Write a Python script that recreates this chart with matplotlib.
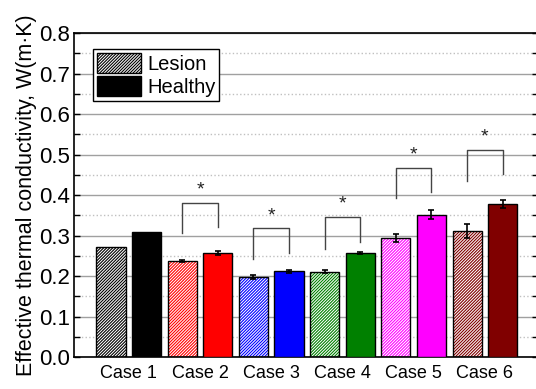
import numpy as np
import matplotlib
matplotlib.use('Agg')
import matplotlib.pyplot as plt
from matplotlib.patches import Patch

plt.rcParams['font.family'] = ['Liberation Sans', 'DejaVu Sans']
plt.rcParams['hatch.linewidth'] = 0.8

## Data

cases = ['Case 1', 'Case 2', 'Case 3', 'Case 4', 'Case 5', 'Case 6']
lesion = [0.272, 0.238, 0.198, 0.211, 0.294, 0.312]
lesion_err = [np.nan, 0.002, 0.005, 0.003, 0.009, 0.017]
healthy = [0.309, 0.256, 0.212, 0.257, 0.351, 0.379]
healthy_err = [np.nan, 0.005, 0.004, 0.002, 0.011, 0.010]
colors = ['black', '#ff0000', '#0000ff', '#008000', '#ff00ff', '#800000']

## Significance brackets (cases 2-6): top level, left leg end, right leg end, star height
sig_cases = [1, 2, 3, 4, 5]
sig_top = [0.381, 0.318, 0.345, 0.467, 0.511]
sig_left = [0.306, 0.242, 0.267, 0.392, 0.435]
sig_right = [0.322, 0.258, 0.285, 0.407, 0.453]
sig_star = [0.412, 0.349, 0.377, 0.499, 0.543]

x = np.arange(len(cases))
off = 0.25
width = 0.41
hatch = '/' * 11

fig = plt.figure(figsize=(5.36, 3.89), dpi=100)
ax = fig.add_axes([0.138, 0.082, 0.865, 0.833])

## Lesion bars: white face with coloured hatch, then a black outline on top
ax.bar(x - off, lesion, width, color='white', edgecolor=colors, hatch=hatch,
       linewidth=0, zorder=2)
ax.bar(x - off, lesion, width, fill=False, edgecolor='black', linewidth=1.0,
       yerr=lesion_err, capsize=2.5, error_kw=dict(elinewidth=1.2, capthick=1.2, ecolor='black'),
       zorder=3)

## Healthy bars
ax.bar(x + off, healthy, width, color=colors, edgecolor='black', linewidth=1.0,
       yerr=healthy_err, capsize=2.5, error_kw=dict(elinewidth=1.2, capthick=1.2, ecolor='black'),
       zorder=3)

## Brackets with stars
for i, c in enumerate(sig_cases):
    xl = c - off
    xr = c + off
    ax.plot([xl, xl, xr, xr], [sig_left[i], sig_top[i], sig_top[i], sig_right[i]],
            color='#444444', linewidth=1.0, zorder=4)
    ax.text(c, sig_star[i], '*', ha='center', va='center', fontsize=14, color='#222222')

ax.set_xlim(-0.77, 5.74)
ax.set_ylim(0, 0.8)
ax.set_yticks(np.arange(0, 0.81, 0.1))
ax.set_yticks(np.arange(0.05, 0.8, 0.1), minor=True)
ax.set_yticklabels(['%.1f' % v for v in np.arange(0, 0.81, 0.1)], fontsize=16)
ax.set_xticks(x)
ax.set_xticklabels(cases, fontsize=13)
ax.tick_params(axis='x', length=0, pad=6)
ax.tick_params(axis='y', which='both', direction='in', right=True, length=4, width=1, pad=3)

ax.grid(axis='y', which='major', color='#a0a0a0', linewidth=1.0, zorder=0)
ax.grid(axis='y', which='minor', color='#c0c0c0', linestyle=':', linewidth=1.0, zorder=0)
ax.set_axisbelow(True)

for s in ax.spines.values():
    s.set_linewidth(1.2)

ax.set_ylabel('Effective thermal conductivity, W(m\u00b7K)', fontsize=15.5, labelpad=1)

handles = [Patch(facecolor='white', edgecolor='black', hatch=hatch, linewidth=1.0),
           Patch(facecolor='black', edgecolor='black', linewidth=1.0)]
leg = ax.legend(handles, ['Lesion', 'Healthy'], loc='upper left', bbox_to_anchor=(0.04, 0.95),
                fontsize=14.5, fancybox=False, framealpha=1, edgecolor='black',
                handlelength=2.2, handleheight=1.1, handletextpad=0.3, labelspacing=0.12,
                borderpad=0.2, borderaxespad=0)
leg.get_frame().set_linewidth(1.0)

fig.savefig('out.png', dpi=100)
